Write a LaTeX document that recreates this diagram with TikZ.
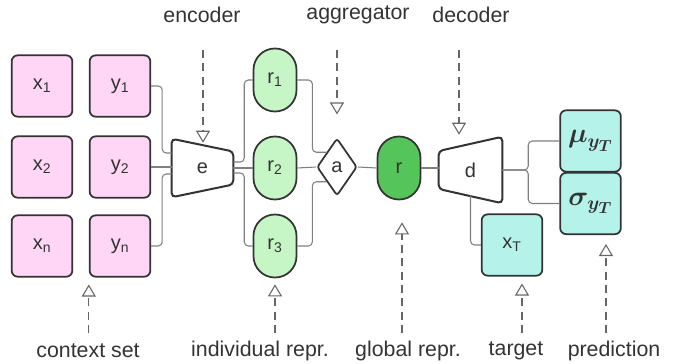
\documentclass[tikz,border=0pt]{standalone}
\usepackage{fontspec}
\usepackage{bm}
\setmainfont{Liberation Sans}
\usetikzlibrary{shapes.geometric,arrows.meta,calc}

\definecolor{ctxpink}{HTML}{FFD6F5}
\definecolor{reprgreen}{HTML}{C6F5C6}
\definecolor{globalgreen}{HTML}{55C45A}
\definecolor{targetteal}{HTML}{B5F3EA}
\definecolor{darkline}{HTML}{333333}
\definecolor{wiregray}{HTML}{808080}

\tikzset{
  box/.style={draw=darkline, line width=1.3pt, rounded corners=4.5pt, minimum width=45.5pt,
    minimum height=46pt, inner sep=0pt, font=\fontsize{15}{18}\selectfont, text=darkline},
  ctxbox/.style={box, fill=ctxpink},
  tgtbox/.style={box, fill=targetteal},
  pill/.style={box, rounded corners=16pt, minimum width=32.25pt, minimum height=47.25pt, fill=reprgreen},
  shell/.style={draw=darkline, line width=1.5pt, rounded corners=3pt},
  link/.style={draw=wiregray, line width=0.8pt, rounded corners=3pt},
  note/.style={draw=wiregray!80!black, line width=0.8pt, dash pattern=on 6pt off 4pt,
    -{Triangle[open, length=9pt, width=10.5pt, fill=white]}},
  lbl/.style={font=\fontsize{16}{19}\selectfont, text=darkline}
}

\begin{document}
\begin{tikzpicture}[x=0.75pt, y=-0.75pt]
    \useasboundingbox (0,0) rectangle (679,364);

    % context set
    \foreach \i/\s/\y in {1/1/86, 2/2/167, 3/n/246} {
        \node[ctxbox] (x\i) at (42,\y) {x\textsubscript{\s}};
        \node[ctxbox] (y\i) at (120,\y) {y\textsubscript{\s}};
    }

    % encoder
    \node[inner sep=0pt, minimum width=45.75pt, minimum height=43.5pt, font=\fontsize{15}{18}\selectfont, text=darkline] (e) at (202.5,168) {e};
    \draw[shell] (e.north west) -- ($(e.east)+(0,-16.5)$) -- ($(e.east)+(0,16.5)$) -- (e.south west) -- cycle;

    % individual representations
    \foreach \i/\y in {1/80, 2/168, 3/246}
        \node[pill] (r\i) at (275,\y) {r\textsubscript{\i}};

    % aggregator
    \node[diamond, draw=darkline, line width=1.3pt, rounded corners=2pt, inner sep=0pt, minimum width=30pt, minimum height=43pt,
        font=\fontsize{15}{18}\selectfont, text=darkline] (a) at (337,167) {a};

    % global representation
    \node[pill, fill=globalgreen] (r) at (399,168) {r};

    % decoder
    \node[inner sep=0pt, minimum width=47.25pt, minimum height=49.5pt, font=\fontsize{15}{18}\selectfont, text=darkline] (d) at (470.5,170) {d};
    \draw[shell] ($(d.west)+(0,-19)$) -- (d.north east) -- (d.south east) -- ($(d.west)+(0,19)$) -- cycle;

    % target and prediction
    \node[tgtbox] (xT) at (512,245) {x\textsubscript{T}};
    \node[tgtbox, font=\huge] (mu) at (590.5,141) {$\bm{\mu}_{\bm{y_T}}$};
    \node[tgtbox, font=\huge] (sigma) at (590.5,203.5) {$\bm{\sigma}_{\bm{y_T}}$};

    % connectors
    \draw[link] (y1.east) -- ++(11,0) |- ($(e.west)+(0,-15)$);
    \draw[link] (y2.east) -- (y2.east -| e.west);
    \draw[link] (y3.east) -- ++(11,0) |- ($(e.west)+(0,6)$);
    \draw[link] ($(e.east)+(0,-6)$) -- ++(11,0) |- (r1.west);
    \draw[link] (e.east) -- (r2.west);
    \draw[link] ($(e.east)+(0,5)$) -- ++(11,0) |- (r3.west);
    \draw[link] (r1.east) -- ++(15,0) |- (a.north west);
    \draw[link] (r2.east) -- (a.west);
    \draw[link] (r3.east) -- ++(15,0) |- (a.south west);
    \draw[link] (a.east) -- (r.west);
    \draw[link] (r.east) -- (r.east -| d.west);
    \draw[link] (d.east) -- ++(26,0) |- (mu.west);
    \draw[link] (d.east) -- ++(26,0) |- (sigma.west);
    \draw[link] ($(d.south)+(0,-8)$) |- (xT.west);

    % labels
    \node[lbl] (lenc) at (202,15) {encoder};
    \node[lbl] (lagg) at (358,15) {aggregator};
    \node[lbl] (ldec) at (471,15) {decoder};
    \node[lbl] (lctx) at (88,351) {context set};
    \node[lbl] (lind) at (260,351) {individual repr.};
    \node[lbl] (lglob) at (408,351) {global repr.};
    \node[lbl] (ltgt) at (516,351) {target};
    \node[lbl] (lpred) at (614,351) {prediction};

    % arrow tips of the notes
    \coordinate (tenc) at ($(e.north)+(0.5,4)$);
    \coordinate (tagg) at ($(a.north)+(0,-23)$);
    \coordinate (tdec) at ($(d.north)+(-11.5,-2)$);
    \coordinate (tctx) at ($(y3.south west)+(0,7)$);
    \coordinate (tind) at ($(r3.south)+(0,6)$);
    \coordinate (tglob) at ($(r.south)+(3,22)$);
    \coordinate (ttgt) at ($(xT.south)+(10,7)$);
    \coordinate (tpred) at ($(sigma.south)+(15.5,9)$);

    \foreach \t in {tenc,tagg,tdec}
        \draw[note] (\t |- 0,50) -- (\t);
    \foreach \t in {tctx,tind,tglob,ttgt,tpred}
        \draw[note] (\t |- 0,333) -- (\t);
\end{tikzpicture}
\end{document}
